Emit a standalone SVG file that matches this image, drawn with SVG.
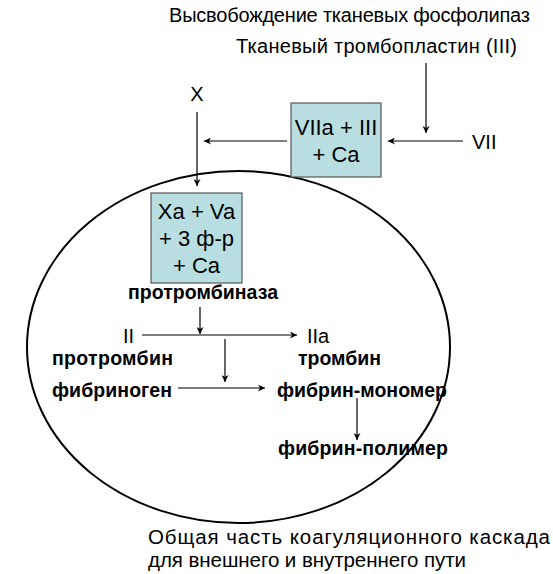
<svg xmlns="http://www.w3.org/2000/svg" width="553" height="574" viewBox="0 0 553 574">
  <defs>
    <marker id="arr" viewBox="0 0 10 10" refX="10" refY="5" markerWidth="7" markerHeight="7" markerUnits="userSpaceOnUse" orient="auto">
      <path d="M0,0 L10,5 L0,10 L3,5 Z" fill="#000"/>
    </marker>
    <style>
      text { font-family: "Liberation Sans", Arial, sans-serif; fill: #000; }
      .reg { font-size: 20px; }
      .big { font-size: 22px; }
      .bold { font-size: 19.5px; font-weight: bold; }
      .cap { font-size: 20.5px; }
      .box { fill: #b9dee2; stroke: #555; stroke-width: 1.2; }
      .link { stroke: #000; stroke-width: 1.2; fill: none; marker-end: url(#arr); }
    </style>
  </defs>
  <rect width="553" height="574" fill="#fff"/>

  <!-- common pathway region -->
  <ellipse id="common-area" cx="238.5" cy="347" rx="211.5" ry="176" fill="none" stroke="#000" stroke-width="2"/>

  <g id="titles">
    <text class="reg" x="169" y="22" textLength="361">Высвобождение тканевых фосфолипаз</text>
    <text class="reg" x="236" y="53" textLength="281">Тканевый тромбопластин (III)</text>
  </g>

  <g id="node-VII"><text class="reg" x="472" y="149">VII</text></g>
  <g id="node-X"><text class="reg" x="197" y="101" text-anchor="middle">X</text></g>

  <g id="node-VIIa">
    <rect class="box" x="291" y="103" width="90" height="74"/>
    <text class="big" x="336" y="135" text-anchor="middle">VIIa + III</text>
    <text class="big" x="336" y="162" text-anchor="middle">+ Ca</text>
  </g>

  <g id="node-Xa">
    <rect class="box" x="151" y="193" width="91" height="90"/>
    <text class="big" x="196.5" y="219" text-anchor="middle">Xa + Va</text>
    <text class="big" x="196.5" y="246" text-anchor="middle">+ 3 ф-р</text>
    <text class="big" x="196.5" y="273" text-anchor="middle">+ Ca</text>
    <text class="bold" x="128" y="299" textLength="150">протромбиназа</text>
  </g>

  <g id="node-II">
    <text class="reg" x="123" y="343">II</text>
    <text class="bold" x="52" y="365" textLength="121">протромбин</text>
  </g>
  <g id="node-IIa">
    <text class="reg" x="307" y="343">IIa</text>
    <text class="bold" x="298" y="365">тромбин</text>
  </g>
  <g id="node-fibrinogen"><text class="bold" x="52" y="397" textLength="120">фибриноген</text></g>
  <g id="node-monomer"><text class="bold" x="277" y="397" textLength="170">фибрин-мономер</text></g>
  <g id="node-polymer"><text class="bold" x="278" y="455" textLength="170">фибрин-полимер</text></g>

  <g id="caption">
    <text class="cap" x="148" y="544" textLength="402">Общая часть коагуляционного каскада</text>
    <text class="cap" x="148" y="567" textLength="318">для внешнего и внутреннего пути</text>
  </g>

  <g id="connectors">
    <line class="link" x1="426" y1="63" x2="426" y2="133"/>
    <line class="link" x1="463" y1="141" x2="388" y2="141"/>
    <line class="link" x1="287" y1="141" x2="204" y2="141"/>
    <line class="link" x1="197" y1="112" x2="197" y2="186"/>
    <line class="link" x1="200" y1="307" x2="200" y2="334"/>
    <line class="link" x1="142" y1="335" x2="297" y2="335"/>
    <line class="link" x1="225" y1="339" x2="225" y2="382"/>
    <line class="link" x1="178" y1="388" x2="265" y2="388"/>
    <line class="link" x1="357" y1="398" x2="357" y2="440"/>
  </g>
</svg>
